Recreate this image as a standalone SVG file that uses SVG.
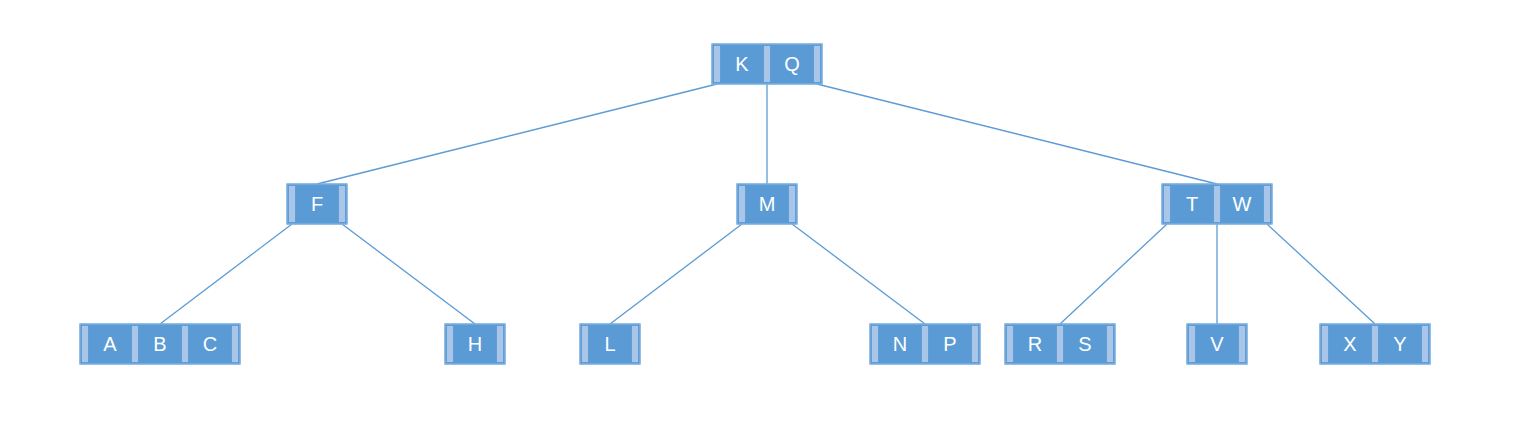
<svg xmlns="http://www.w3.org/2000/svg" width="1535" height="440" viewBox="0 0 1535 440">
<style>
.key{fill:#5B9BD5;stroke:#7AAEE0;stroke-width:1}
.slot{fill:#A9C5E8;stroke:#5B9BD5;stroke-width:1.2}
.frame{fill:none;stroke:#7AAEE0;stroke-width:1.2}
.lbl{font-family:"Liberation Sans",Arial,sans-serif;font-size:20px;fill:#FFFFFF;text-anchor:middle}
.edge{stroke:#5B9BD5;stroke-width:1.3;fill:none}
</style>
<defs>
<g id="s"><rect class="slot" x="1.3" y="1.3" width="7.4" height="37.4"/></g>
</defs>
<rect width="1535" height="440" fill="#FFFFFF"/>
<g id="connectors">
<line class="edge" x1="717" y1="84" x2="317" y2="184"/>
<line class="edge" x1="767" y1="84" x2="767" y2="184"/>
<line class="edge" x1="817" y1="84" x2="1217" y2="184"/>
<line class="edge" x1="292" y1="224" x2="160" y2="324"/>
<line class="edge" x1="342" y1="224" x2="475" y2="324"/>
<line class="edge" x1="742" y1="224" x2="610" y2="324"/>
<line class="edge" x1="792" y1="224" x2="925" y2="324"/>
<line class="edge" x1="1167" y1="224" x2="1060" y2="324"/>
<line class="edge" x1="1217" y1="224" x2="1217" y2="324"/>
<line class="edge" x1="1267" y1="224" x2="1375" y2="324"/>
</g>
<g id="node-KQ" transform="translate(712,44)">
<rect class="key" x="0" y="0" width="110" height="40"/>
<use href="#s" x="0"/><use href="#s" x="50"/><use href="#s" x="100"/>
<rect class="frame" x="0" y="0" width="110" height="40"/>
<text class="lbl" x="30" y="27">K</text><text class="lbl" x="80" y="27">Q</text>
</g>
<g id="node-F" transform="translate(287,184)">
<rect class="key" x="0" y="0" width="60" height="40"/>
<use href="#s" x="0"/><use href="#s" x="50"/>
<rect class="frame" x="0" y="0" width="60" height="40"/>
<text class="lbl" x="30" y="27">F</text>
</g>
<g id="node-M" transform="translate(737,184)">
<rect class="key" x="0" y="0" width="60" height="40"/>
<use href="#s" x="0"/><use href="#s" x="50"/>
<rect class="frame" x="0" y="0" width="60" height="40"/>
<text class="lbl" x="30" y="27">M</text>
</g>
<g id="node-TW" transform="translate(1162,184)">
<rect class="key" x="0" y="0" width="110" height="40"/>
<use href="#s" x="0"/><use href="#s" x="50"/><use href="#s" x="100"/>
<rect class="frame" x="0" y="0" width="110" height="40"/>
<text class="lbl" x="30" y="27">T</text><text class="lbl" x="80" y="27">W</text>
</g>
<g id="node-ABC" transform="translate(80,324)">
<rect class="key" x="0" y="0" width="160" height="40"/>
<use href="#s" x="0"/><use href="#s" x="50"/><use href="#s" x="100"/><use href="#s" x="150"/>
<rect class="frame" x="0" y="0" width="160" height="40"/>
<text class="lbl" x="30" y="27">A</text><text class="lbl" x="80" y="27">B</text><text class="lbl" x="130" y="27">C</text>
</g>
<g id="node-H" transform="translate(445,324)">
<rect class="key" x="0" y="0" width="60" height="40"/>
<use href="#s" x="0"/><use href="#s" x="50"/>
<rect class="frame" x="0" y="0" width="60" height="40"/>
<text class="lbl" x="30" y="27">H</text>
</g>
<g id="node-L" transform="translate(580,324)">
<rect class="key" x="0" y="0" width="60" height="40"/>
<use href="#s" x="0"/><use href="#s" x="50"/>
<rect class="frame" x="0" y="0" width="60" height="40"/>
<text class="lbl" x="30" y="27">L</text>
</g>
<g id="node-NP" transform="translate(870,324)">
<rect class="key" x="0" y="0" width="110" height="40"/>
<use href="#s" x="0"/><use href="#s" x="50"/><use href="#s" x="100"/>
<rect class="frame" x="0" y="0" width="110" height="40"/>
<text class="lbl" x="30" y="27">N</text><text class="lbl" x="80" y="27">P</text>
</g>
<g id="node-RS" transform="translate(1005,324)">
<rect class="key" x="0" y="0" width="110" height="40"/>
<use href="#s" x="0"/><use href="#s" x="50"/><use href="#s" x="100"/>
<rect class="frame" x="0" y="0" width="110" height="40"/>
<text class="lbl" x="30" y="27">R</text><text class="lbl" x="80" y="27">S</text>
</g>
<g id="node-V" transform="translate(1187,324)">
<rect class="key" x="0" y="0" width="60" height="40"/>
<use href="#s" x="0"/><use href="#s" x="50"/>
<rect class="frame" x="0" y="0" width="60" height="40"/>
<text class="lbl" x="30" y="27">V</text>
</g>
<g id="node-XY" transform="translate(1320,324)">
<rect class="key" x="0" y="0" width="110" height="40"/>
<use href="#s" x="0"/><use href="#s" x="50"/><use href="#s" x="100"/>
<rect class="frame" x="0" y="0" width="110" height="40"/>
<text class="lbl" x="30" y="27">X</text><text class="lbl" x="80" y="27">Y</text>
</g>
</svg>
